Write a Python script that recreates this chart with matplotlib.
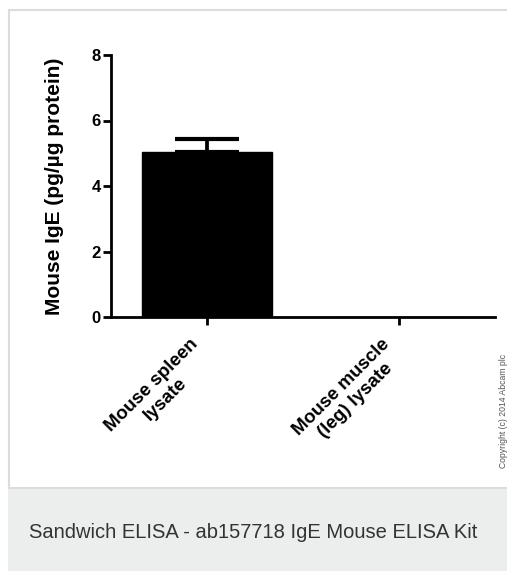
import matplotlib.pyplot as plt
import matplotlib.transforms as mtransforms
from matplotlib.patches import Rectangle

plt.rcParams['font.family'] = ['Liberation Sans', 'DejaVu Sans']

# data
categories = ['Mouse spleen\nlysate', 'Mouse muscle\n(leg) lysate']
values = [5.05, 0.0]
errors = [0.37, 0.0]
yticks = [0, 2, 4, 6, 8]

W, H = 507, 571
fig = plt.figure(figsize=(W / 100, H / 100), dpi=100)

# panel frame and caption strip
fig.patches.append(Rectangle((9 / W, (H - 488) / H), 1, 478 / H, transform=fig.transFigure,
                             facecolor='white', edgecolor='#dcdcdc', linewidth=1.5, zorder=-2))
fig.patches.append(Rectangle((8 / W, 0), 1, (H - 489) / H, transform=fig.transFigure,
                             facecolor='#eceeed', edgecolor='none', zorder=-2))
fig.text(29 / W, (H - 532) / H, 'Sandwich ELISA - ab157718 IgE Mouse ELISA Kit',
         fontsize=14.5, color='#333333', ha='left', va='center')

ax = fig.add_axes([111 / W, (H - 317) / H, (495 - 111) / W, (317 - 55) / H])
ax.patch.set_visible(False)
x = range(len(categories))
ax.bar(x, values, width=0.68, color='black', edgecolor='black')
ax.errorbar(x[:1], values[:1], yerr=[[0], errors[:1]], fmt='none', ecolor='black',
            elinewidth=2.7, capsize=22.7, capthick=3)

ax.set_xlim(-0.5, 1.5)
ax.set_ylim(0, 8)
ax.set_yticks(yticks)
ax.set_xticks(list(x))
ax.set_xticklabels(categories, rotation=45, ha='right', va='center', rotation_mode='anchor',
                   multialignment='center', fontsize=13.5, fontweight='bold')
ax.tick_params(axis='both', width=2, length=5.5, color='black')
ax.tick_params(axis='y', pad=2, labelsize=12)
ax.tick_params(axis='x', pad=17)
for lab in ax.get_yticklabels():
    lab.set_fontweight('bold')
# nudge the slanted labels a little to the left, as in the original
shift = mtransforms.ScaledTranslation(-5 / 100, 0, fig.dpi_scale_trans)
for lab in ax.get_xticklabels():
    lab.set_transform(lab.get_transform() + shift)
ax.spines['top'].set_visible(False)
ax.spines['right'].set_visible(False)
ax.spines['left'].set_linewidth(2)
ax.spines['bottom'].set_linewidth(2)
ax.set_ylabel('Mouse IgE (pg/\u00b5g protein)', fontsize=15, fontweight='bold', labelpad=20)

fig.text(503 / W, (H - 411) / H, 'Copyright (c) 2014 Abcam plc', rotation=90,
         fontsize=6.2, color='#555555', ha='center', va='center')

plt.savefig('out.png', dpi=100)
plt.close()
